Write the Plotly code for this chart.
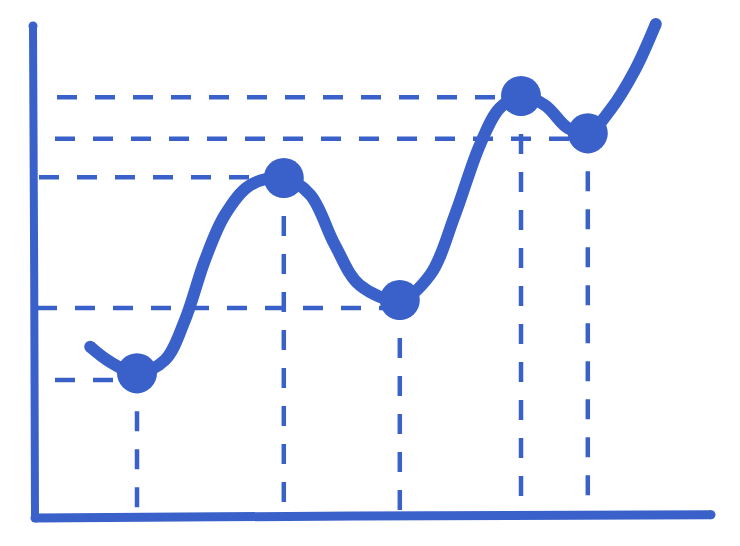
import plotly.graph_objects as go

# Data (value units; axis origin at 0,0)
point_x = [2.55, 6.22, 9.12, 12.15, 13.82]
point_y = [3.62, 8.50, 5.45, 10.55, 9.62]

curve_x = [1.38, 1.88, 2.55, 3.25, 3.75, 4.25, 4.75, 5.38, 6.22, 6.88, 7.50, 8.12,
           9.12, 9.88, 10.50, 11.12, 11.62, 12.15, 12.75, 13.32, 13.82, 14.38, 15.00, 15.52]
curve_y = [4.28, 3.90, 3.62, 3.95, 4.95, 6.45, 7.58, 8.32, 8.50, 8.08, 6.82, 5.82,
           5.45, 6.08, 7.58, 9.32, 10.25, 10.55, 10.32, 9.75, 9.62, 10.20, 11.20, 12.35]

guide_y = [3.45, 8.52, 5.25, 10.52, 9.48]   # horizontal dashed guide levels
guide_start = [0.5, 0.1, 0.05, 0.55, 0.5]
guide_floor = [0.0, 0.2, 0.2, 0.3, 0.55]

yaxis_x = [-0.05, -0.02, 0.0]
yaxis_y = [12.3, 6.0, 0.0]
xaxis_x = [0.0, 8.0, 16.9]
xaxis_y = [0.0, 0.05, 0.08]

BLUE = "#3a61c9"

fig = go.Figure()

# axes
fig.add_trace(go.Scatter(x=yaxis_x, y=yaxis_y, mode="lines",
                         line=dict(color=BLUE, width=8, shape="spline"), hoverinfo="skip"))
fig.add_trace(go.Scatter(x=xaxis_x, y=xaxis_y, mode="lines",
                         line=dict(color=BLUE, width=9, shape="spline"), hoverinfo="skip"))

# dashed guides
for px, py, gy, gs, gf in zip(point_x, point_y, guide_y, guide_start, guide_floor):
    fig.add_trace(go.Scatter(x=[gs, px], y=[gy, gy], mode="lines",
                             line=dict(color=BLUE, width=4.5, dash="20px,18px"), hoverinfo="skip"))
    fig.add_trace(go.Scatter(x=[px, px], y=[py, gf], mode="lines",
                             line=dict(color=BLUE, width=4.5, dash="20px,18px"), hoverinfo="skip"))

# curve
fig.add_trace(go.Scatter(x=curve_x, y=curve_y, mode="lines",
                         line=dict(color=BLUE, width=12, shape="spline", smoothing=1.0),
                         hoverinfo="skip"))
# rounded ends
fig.add_trace(go.Scatter(x=[curve_x[0], curve_x[-1]], y=[curve_y[0], curve_y[-1]], mode="markers",
                         marker=dict(color=BLUE, size=12), hoverinfo="skip"))
fig.add_trace(go.Scatter(x=[xaxis_x[-1], yaxis_x[0], 0], y=[xaxis_y[-1], yaxis_y[0], 0], mode="markers",
                         marker=dict(color=BLUE, size=9), hoverinfo="skip"))

# points
fig.add_trace(go.Scatter(x=point_x, y=point_y, mode="markers",
                         marker=dict(color=BLUE, size=40, line=dict(width=0)), hoverinfo="skip"))

fig.update_layout(
    width=740, height=546,
    margin=dict(l=0, r=0, t=0, b=0),
    paper_bgcolor="white", plot_bgcolor="white",
    showlegend=False,
    xaxis=dict(range=[-0.675, 17.825], visible=False, fixedrange=True),
    yaxis=dict(range=[-0.9, 12.75], visible=False, fixedrange=True),
)

fig.write_html("out.html")
